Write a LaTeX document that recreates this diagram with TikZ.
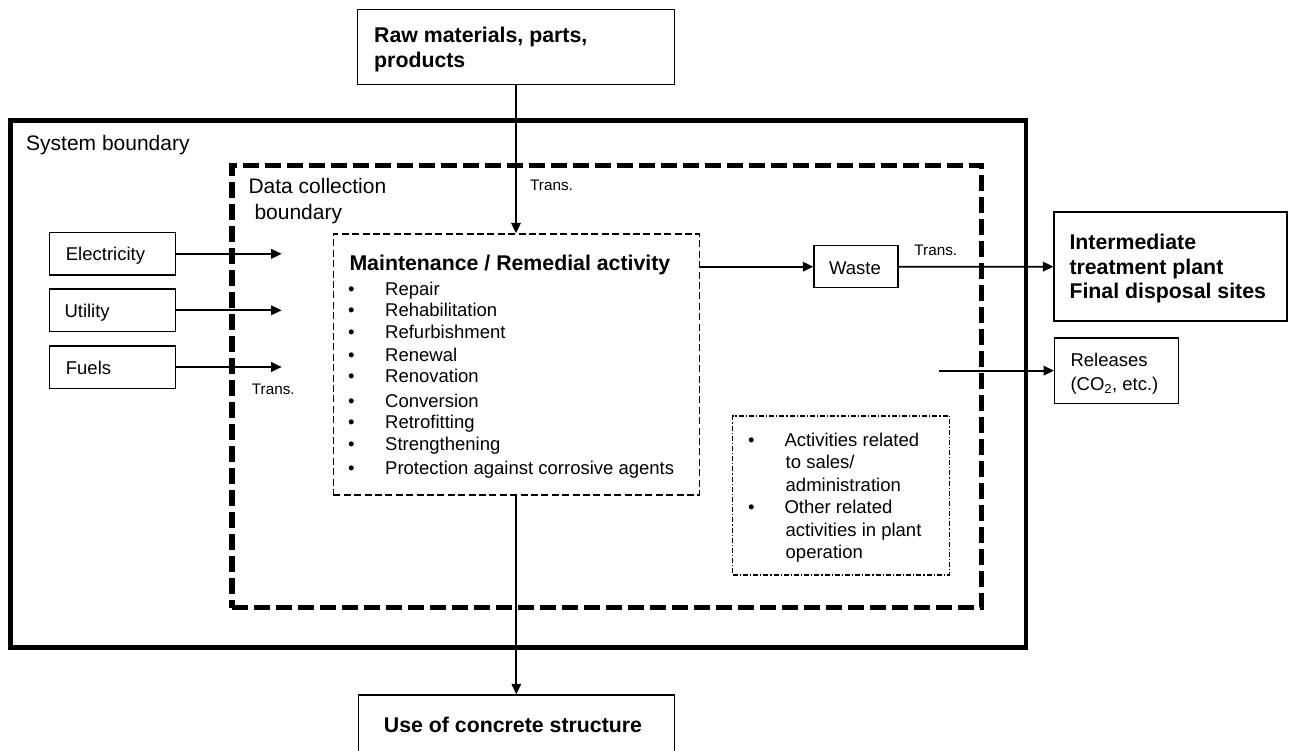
\documentclass[tikz,border=0pt]{standalone}
\usepackage{fontspec}
\setmainfont{Liberation Sans}
\usetikzlibrary{arrows.meta}

\begin{document}
\begin{tikzpicture}[x=1pt,y=-1pt,
  box/.style={draw, line width=1.4pt, inner sep=0pt},
  bnd/.style={draw, inner sep=0pt},
  txt/.style={inner sep=0pt, anchor=base west, font=\fontsize{18.5}{22}\selectfont},
  big/.style={txt, font=\fontsize{21}{25}\selectfont},
  btxt/.style={txt, font=\bfseries\fontsize{21.3}{25}\selectfont},
  small/.style={txt, font=\fontsize{15.3}{18}\selectfont},
  arr/.style={line width=1.8pt, -{Triangle[length=10.5pt,width=9.5pt]}},
  item/.style={txt}
]
\useasboundingbox (0,0) rectangle (1289,751);
\clip (0,0) rectangle (1289,751);

% boundaries
\node[bnd, line width=4.7pt, minimum width=1015.7pt, minimum height=527pt] (sysb) at (518.15,383.8) {};
\node[bnd, line width=5.5pt, dash pattern=on 16pt off 6pt, minimum width=749.7pt, minimum height=442pt] (dcb) at (606.85,386.5) {};
\node[big] (sysl) at (26,150.7) {System boundary};
\node[big] (dcl1) at (248.3,193.3) {Data collection};
\node[big] (dcl2) at (254.3,220) {boundary};

% input from above
\node[box, minimum width=316.6pt, minimum height=75pt] (raw) at (516,46.8) {};
\node[btxt] (raw1) at (374,43) {Raw materials, parts,};
\node[btxt] (raw2) at (374,68) {products};

% energy inputs
\node[box, minimum width=126.2pt, minimum height=42.4pt] (elec) at (112.6,253.85) {};
\node[box, minimum width=126.2pt, minimum height=42.4pt] (util) at (112.6,310.3) {};
\node[box, minimum width=126.2pt, minimum height=42.4pt] (fuel) at (112.6,367) {};
\node[txt] (elecl) at (65.7,261) {Electricity};
\node[txt] (utill) at (64.3,317.5) {Utility};
\node[txt] (fuell) at (65.7,374) {Fuels};
\coordinate (elecend) at (281.7,253.85);
\coordinate (utilend) at (281.7,310.3);
\coordinate (fuelend) at (281.7,367);

% central activity
\node[box, line width=1.3pt, dash pattern=on 7pt off 3.4pt, minimum width=366pt, minimum height=261pt] (main) at (516.3,364.5) {};
\node[btxt] (mtitle) at (349.3,270) {Maintenance / Remedial activity};
\node[item] (m1) at (348,295)   {\makebox[37pt][l]{•}Repair};
\node[item] (m2) at (348,316.7) {\makebox[37pt][l]{•}Rehabilitation};
\node[item] (m3) at (348,338.3) {\makebox[37pt][l]{•}Refurbishment};
\node[item] (m4) at (348,361.7) {\makebox[37pt][l]{•}Renewal};
\node[item] (m5) at (348,382.7) {\makebox[37pt][l]{•}Renovation};
\node[item] (m6) at (348,407.7) {\makebox[37pt][l]{•}Conversion};
\node[item] (m7) at (348,428.3) {\makebox[37pt][l]{•}Retrofitting};
\node[item] (m8) at (348,450)   {\makebox[37pt][l]{•}Strengthening};
\node[item] (m9) at (348,474.3) {\makebox[37pt][l]{•}Protection against corrosive agents};

% outputs
\node[box, minimum width=84pt, minimum height=42pt] (waste) at (856,266.7) {};
\node[txt, anchor=base] (wastel) at (855,274) {Waste};
\node[box, line width=1.7pt, minimum width=233pt, minimum height=108.7pt] (inter) at (1170.8,266.65) {};
\node[btxt] (inter1) at (1069.3,249) {Intermediate};
\node[btxt] (inter2) at (1069.3,274) {treatment plant};
\node[btxt] (inter3) at (1069.3,298.3) {Final disposal sites};
\node[box, minimum width=123.5pt, minimum height=65.3pt] (rel) at (1116.5,370.65) {};
\node[txt] (rel1) at (1070.3,366.7) {Releases};
\node[txt] (rel2) at (1070.3,390) {(CO\textsubscript{2}, etc.)};
\coordinate (relstart) at (939.4,370.65);

% other activities
\node[bnd, line width=1.1pt, dash pattern=on 5pt off 2pt on 1.2pt off 2pt, minimum width=216.6pt, minimum height=159pt] (act) at (841,495.5) {};
\node[item] (a1) at (748,446.7) {\makebox[36.3pt][l]{•}Activities related};
\node[txt] (a1b) at (785.5,468) {to sales/};
\node[txt] (a1c) at (785.5,491.7) {administration};
\node[item] (a2) at (748,513) {\makebox[36.3pt][l]{•}Other related};
\node[txt] (a2b) at (785.5,536.7) {activities in plant};
\node[txt] (a2c) at (785.5,558) {operation};

% use stage
\node[box, minimum width=316pt, minimum height=80pt] (use) at (516.3,735) {};
\node[btxt, anchor=base] (usel) at (513,732.7) {Use of concrete structure};

% transport labels
\node[small] (tr1) at (530,190.7) {Trans.};
\node[small] (tr2) at (251.7,394) {Trans.};
\node[small] (tr3) at (914.2,255) {Trans.};

% flows
\draw[arr] (raw.south) -- (raw.south |- main.north);
\draw[arr] (main.south) -- (main.south |- use.north);
\draw[arr] (elec.east) -- (elecend);
\draw[arr] (util.east) -- (utilend);
\draw[arr] (fuel.east) -- (fuelend);
\draw[arr] (main.east |- waste.west) -- (waste.west);
\draw[arr] (waste.east) -- (inter.west);
\draw[arr] (relstart) -- (rel.west);
\end{tikzpicture}
\end{document}
